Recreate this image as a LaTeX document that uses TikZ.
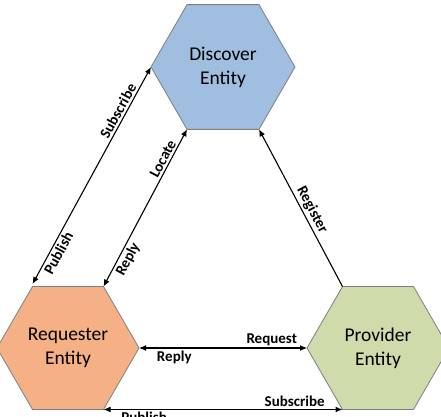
\documentclass[tikz,border=0pt]{standalone}
\usepackage{fontspec}
\setmainfont{Carlito}
\usetikzlibrary{shapes.geometric,arrows.meta,calc}
\definecolor{discblue}{HTML}{A0BEDF}
\definecolor{reqorange}{HTML}{F5B185}
\definecolor{provgreen}{HTML}{CFDBAB}
\definecolor{hexborder}{HTML}{7A7F86}
\begin{document}
\begin{tikzpicture}[x=1pt,y=1pt,
  hexbox/.style={regular polygon, regular polygon sides=6, draw=hexborder, line width=0.8pt,
    minimum size=142pt, inner sep=0pt, align=center, font=\fontsize{19.5}{23.8}\selectfont},
  conn/.style={line width=1.1pt, black},
  twoway/.style={conn, {Latex[length=7pt,width=6pt]}-{Latex[length=7pt,width=6pt]}},
  oneway/.style={conn, -{Latex[length=7pt,width=6pt]}},
  lbl/.style={font=\fontsize{15}{17}\selectfont\bfseries, inner sep=2pt}]
\useasboundingbox (0,0) rectangle (441,416);
\node[hexbox, fill=discblue, minimum size=144pt] (d) at (223,349) {Discover\\Entity};
\node[hexbox, fill=reqorange] (r) at (68,68) {Requester\\Entity};
\node[hexbox, fill=provgreen] (p) at (378,68) {Provider\\Entity};
% vertices
\coordinate (dL)  at ($(d.center)+(180:72)$);
\coordinate (dBL) at ($(d.center)+(240:72)$);
\coordinate (dBR) at ($(d.center)+(300:72)$);
\coordinate (rTL) at ($(r.center)+(120:71)+(0,2.5)$);
\coordinate (rTR) at ($(r.center)+(60:71)$);
\coordinate (rR)  at ($(r.center)+(0:71)$);
\coordinate (rBR) at ($(r.center)+(300:71)$);
\coordinate (pTL) at ($(p.center)+(120:71)$);
\coordinate (pL)  at ($(p.center)+(180:71)$);
\coordinate (pBL) at ($(p.center)+(240:71)$);
% connectors
\draw[twoway] (rTL) -- node[lbl, sloped, above, pos=0.78] (l1) {Subscribe}
                      node[lbl, sloped, below, pos=0.16] (l2) {Publish} (dL);
\draw[twoway] (rTR) -- node[lbl, sloped, above, pos=0.79] (l3) {Locate}
                      node[lbl, sloped, below, pos=0.2] (l4) {Reply} (dBL);
\draw[oneway] (pTL) -- node[lbl, sloped, above, pos=0.46] (l5) {Register} (dBR);
\draw[twoway] (rR) -- node[lbl, above, pos=0.79] (l6) {Request}
                     node[lbl, below, pos=0.21] (l7) {Reply} (pL);
\draw[twoway] (rBR) -- node[lbl, above, pos=0.8] (l8) {Subscribe}
                      node[lbl, below, pos=0.17] (l9) {Publish} (pBL);
\end{tikzpicture}
\end{document}
